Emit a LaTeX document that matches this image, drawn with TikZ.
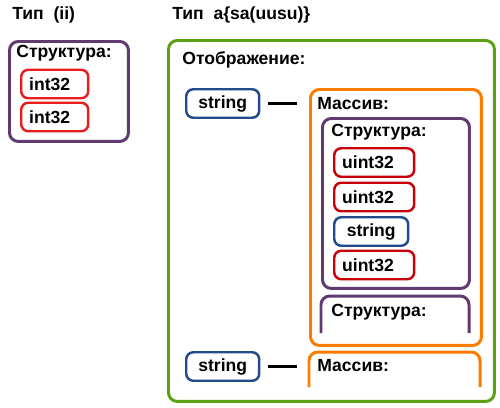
\documentclass[tikz,border=0pt]{standalone}
\usepackage{fontspec}
\setmainfont{Liberation Sans}
\definecolor{grn}{RGB}{92,160,22}
\definecolor{org}{RGB}{250,125,0}
\definecolor{vio}{RGB}{96,58,112}
\definecolor{lred}{RGB}{232,30,30}
\definecolor{dred}{RGB}{200,0,10}
\definecolor{blu}{RGB}{32,76,140}

\begin{document}
\begin{tikzpicture}[x=0.02cm,y=-0.02cm,
    font=\fontsize{10}{12}\selectfont\bfseries,
    box/.style={draw=#1,line width=1.7pt,rounded corners=5pt,inner sep=0pt,anchor=north west},
    item/.style={draw=#1,line width=1.4pt,rounded corners=4pt,fill=white,
      minimum height=0.57cm,inner xsep=0pt,inner ysep=0pt,anchor=west},
    word/.style={anchor=west,inner sep=0pt},
    dashline/.style={line width=1.7pt,shorten <=4.3pt,shorten >=6.8pt}]
  \useasboundingbox (0,0) rectangle (500,407);
  % left: type (ii)
  \node[word] (t1) at (12,15) {Тип\ \ (ii)};
  \node[box=vio,minimum width=2.38cm,minimum height=2cm] (st0) at (8,40) {};
  \node[word] (st0l) at (16,53) {Структура:};
  \node[item=lred,text width=1.34cm,align=left] (i1) at (20,84) {\hspace{4.5pt}int32};
  \node[item=lred,text width=1.34cm,align=left] (i2) at (20,117) {\hspace{4.5pt}int32};
  % right: type a{sa(uusu)}
  \node[word] (t2) at (172,15) {Тип\ \ a\{sa(uusu)\}};
  \node[box=grn,minimum width=6.52cm,minimum height=7.22cm] (map) at (167,39) {};
  \node[word] (mapl) at (182,60) {Отображение:};
  \node[item=blu,text width=1.46cm,align=center] (key1) at (185,103.5) {string};
  \node[box=org,minimum width=3.42cm,minimum height=5.12cm] (arr1) at (309,88) {};
  \node[word] (arr1l) at (317,104) {Массив:};
  \node[box=vio,minimum width=2.94cm,minimum height=3.4cm] (st1) at (321,117) {};
  \node[word] (st1l) at (331,132) {Структура:};
  \node[item=dred,text width=1.6cm,align=left] (u1) at (333,162.5) {\hspace{4.5pt}uint32};
  \node[item=dred,text width=1.6cm,align=left] (u2) at (333,197) {\hspace{4.5pt}uint32};
  \node[item=blu,text width=1.48cm,align=center] (s1) at (333,231.5) {string};
  \node[item=dred,text width=1.6cm,align=left] (u3) at (333,265) {\hspace{4.5pt}uint32};
  % second struct, cut off
  \draw[vio,line width=1.7pt,rounded corners=5pt] (321,333) |- (469,296) -- (469,333);
  \coordinate (st2) at (321,296);
  \node[word] (st2l) at (331,312) {Структура:};
  % second entry, cut off
  \node[item=blu,text width=1.46cm,align=center] (key2) at (185,366.5) {string};
  \draw[org,line width=1.7pt,rounded corners=5pt] (309,387) |- (480,352) -- (480,387);
  \coordinate (arr2) at (309,352);
  \node[word] (arr2l) at (317,366) {Массив:};
  \draw[dashline] (key1) -- (key1 -| arr1.west);
  \draw[dashline] (key2) -- (key2 -| arr2);
\end{tikzpicture}
\end{document}
